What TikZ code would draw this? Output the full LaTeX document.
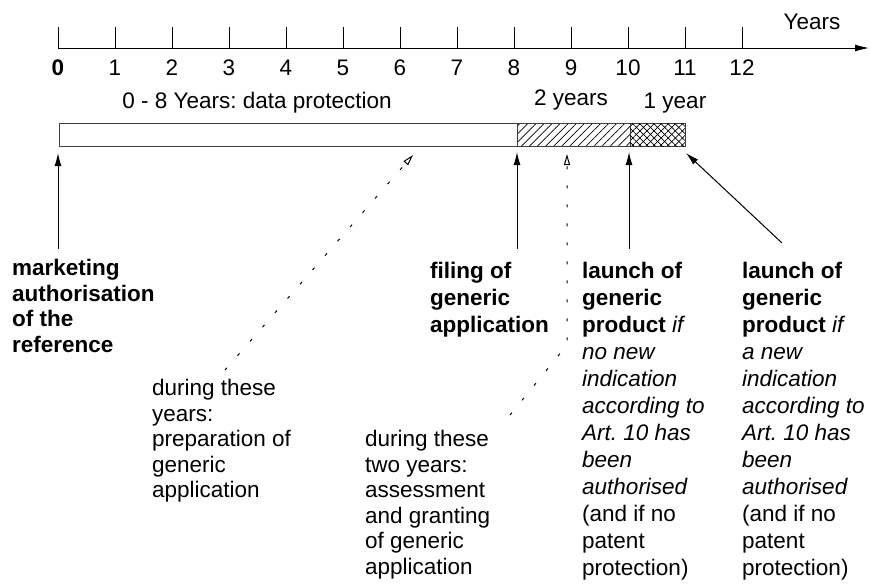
\documentclass[tikz,border=0pt]{standalone}
\usepackage{fontspec}
\setmainfont{Liberation Sans}
\usetikzlibrary{arrows.meta,patterns.meta}
\frenchspacing
\begin{document}
\begin{tikzpicture}[x=1pt,y=-1pt,
        every node/.style={inner sep=0pt},
        lbl/.style={font=\fontsize{22.5}{25.9}\selectfont},
        txt/.style={align=left,anchor=north west,font=\fontsize{22.5}{25.5}\selectfont},
        tallgap/.style={font=\fontsize{22.5}{27}\selectfont},
        solidarrow/.style={-{Latex[length=13pt,width=7pt]},line width=1pt},
        dotarrow/.style={-{Triangle[open,length=11pt,width=6pt]},line width=1pt,dash pattern=on 3pt off 16pt},
        barline/.style={line width=1pt,draw=black!75}]
    \useasboundingbox (0,0) rectangle (870,587);

    % time axis
    \draw[-{Latex[length=14pt,width=7pt]},line width=1pt] (58,48) -- (869,48);
    \foreach \k in {0,...,12}
        \draw[line width=1pt] (58+57*\k,27) -- (58+57*\k,48);
    \node[lbl,font=\fontsize{22.5}{25.9}\selectfont\bfseries] (year0) at (58,68) {0};
    \foreach \k in {1,...,12}
        \node[lbl] (year\k) at (58+57*\k,68) {\k};
    \node[lbl] (yearsLbl) at (812,22) {Years};

    % protection periods
    \draw[barline] (59,123) rectangle (517,146);
    \draw[barline,pattern={Lines[angle=45,distance=5.7pt,line width=0.7pt]}] (517,123) rectangle (630,146);
    \draw[barline,pattern={Lines[angle=45,distance=5pt,line width=0.7pt]}] (630,123) rectangle (685,146);
    \fill[pattern={Lines[angle=-45,distance=5pt,line width=0.7pt]}] (630,123) rectangle (685,146);
    \node[lbl] (dpLbl) at (257,103) {0 - 8 Years: data protection};
    \node[lbl] (twoLbl) at (571,100) {2 years};
    \node[lbl] (oneLbl) at (675,103) {1 year};

    % explanations
    \node[txt,font=\fontsize{22.5}{25.5}\selectfont\bfseries] (auth) at (12,259) {marketing\\authorisation\\of the\\reference};
    \node[txt,tallgap,font=\fontsize{22.5}{27}\selectfont\bfseries] (filing) at (430,262) {filing of\\generic\\application};
    \node[txt,tallgap] (launchA) at (582,262) {\textbf{launch of}\\\textbf{generic}\\\textbf{product} \textit{if}\\\textit{no new}\\\textit{indication}\\\textit{according to}\\\textit{Art. 10 has}\\\textit{been}\\\textit{authorised}\\(and if no\\patent\\protection)};
    \node[txt,tallgap] (launchB) at (742,262) {\textbf{launch of}\\\textbf{generic}\\\textbf{product} \textit{if}\\\textit{a new}\\\textit{indication}\\\textit{according to}\\\textit{Art. 10 has}\\\textit{been}\\\textit{authorised}\\(and if no\\patent\\protection)};
    \node[txt] (prep) at (152,379) {during these\\years:\\preparation of\\generic\\application};
    \node[txt] (assess) at (365,430) {during these\\two years:\\assessment\\and granting\\of generic\\application};

    % pointers to the time bar
    \coordinate (authTip) at (58,153);
    \coordinate (filingTip) at (517,152);
    \coordinate (launchATip) at (629,152);
    \coordinate (launchBTip) at (686,153);
    \coordinate (launchBTail) at (782,243);
    \coordinate (prepTip) at (413,155);
    \coordinate (prepTail) at (225,370);
    \coordinate (assessTip) at (567,154);
    \coordinate (assessBend) at (567,345);
    \coordinate (assessTail) at (510,415);
    \draw[solidarrow,shorten <=10pt] (auth.north -| authTip) -- (authTip);
    \draw[solidarrow,shorten <=13pt] (filing.north -| filingTip) -- (filingTip);
    \draw[solidarrow,shorten <=13pt] (launchA.north -| launchATip) -- (launchATip);
    \draw[solidarrow] (launchBTail) -- (launchBTip);
    \draw[dotarrow] (prepTail) -- (prepTip);
    \draw[dotarrow] (assessTail) -- (assessBend) -- (assessTip);
\end{tikzpicture}
\end{document}
